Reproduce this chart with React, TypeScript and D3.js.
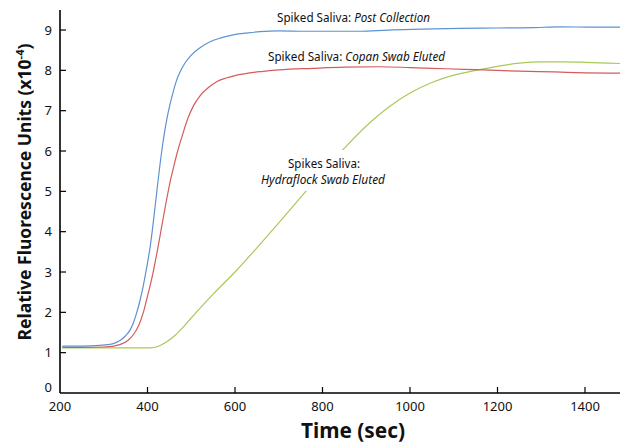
import React from "react";
import * as d3 from "d3";

const xTicks = [200, 400, 600, 800, 1000, 1200, 1400];
const yTicks = [0, 1, 2, 3, 4, 5, 6, 7, 8, 9];

const blueTime = [205, 250, 291, 320, 337, 350, 360, 368, 375, 383, 390, 398, 406, 412, 418, 424, 432, 438, 444, 452, 459, 466, 474, 485, 497, 520, 543, 570, 596, 630, 657, 700, 760, 820, 886, 950, 1030, 1114, 1200, 1280, 1343, 1420, 1480];
const blueVal = [1.16, 1.16, 1.18, 1.22, 1.3, 1.42, 1.56, 1.75, 1.98, 2.3, 2.64, 3.1, 3.62, 4.12, 4.68, 5.25, 5.95, 6.4, 6.78, 7.18, 7.48, 7.74, 7.95, 8.17, 8.34, 8.56, 8.71, 8.81, 8.88, 8.93, 8.96, 8.98, 8.97, 8.97, 8.97, 9.0, 9.02, 9.04, 9.05, 9.06, 9.08, 9.07, 9.07];

const redTime = [205, 250, 300, 337, 355, 368, 380, 390, 400, 413, 422, 432, 442, 451, 460, 467, 480, 493, 505, 520, 540, 558, 580, 600, 630, 660, 700, 778, 850, 931, 1000, 1080, 1167, 1250, 1330, 1400, 1480];
const redVal = [1.13, 1.13, 1.14, 1.2, 1.3, 1.45, 1.68, 1.98, 2.4, 3.0, 3.5, 4.1, 4.7, 5.2, 5.62, 5.92, 6.4, 6.83, 7.12, 7.37, 7.58, 7.72, 7.81, 7.87, 7.93, 7.97, 8.01, 8.05, 8.08, 8.09, 8.07, 8.04, 8.01, 7.98, 7.96, 7.94, 7.93];

const greenTime = [205, 300, 380, 406, 425, 444, 462, 482, 500, 550, 600, 650, 700, 750, 800, 850, 900, 950, 1000, 1050, 1100, 1150, 1200, 1250, 1300, 1350, 1400, 1480];
const greenVal = [1.12, 1.12, 1.12, 1.12, 1.16, 1.27, 1.42, 1.64, 1.86, 2.45, 3.0, 3.6, 4.22, 4.85, 5.48, 6.07, 6.62, 7.08, 7.44, 7.7, 7.88, 8.0, 8.1, 8.18, 8.21, 8.21, 8.2, 8.17];

const W = 624;
const H = 443;
const left = 60;
const right = 620;
const bottom = 393;
const top = 10;

const font = "'Noto Sans', 'Open Sans', sans-serif";

export default function App() {
  const x = d3.scaleLinear().domain([200, 200 + (right - left) / 0.4375]).range([left, right]);
  const y = d3.scaleLinear().domain([0, 9]).range([bottom, bottom - 9 * 40.33]);

  const mk = (ts: number[], vs: number[]) =>
    d3
      .line<number>()
      .x((_, i) => x(ts[i]))
      .y((v) => y(v))
      .curve(d3.curveMonotoneX)(vs) as string;

  return (
    <svg
      width={W}
      height={H}
      style={{ position: "fixed", left: 0, top: 0, background: "#fff" }}
      fontFamily={font}
    >
      <rect x={0} y={0} width={W} height={H} fill="#fff" />
      <path d={mk(greenTime, greenVal)} fill="none" stroke="#a9c95a" strokeWidth={1.2} />
      <path d={mk(redTime, redVal)} fill="none" stroke="#d45c5a" strokeWidth={1.2} />
      <path d={mk(blueTime, blueVal)} fill="none" stroke="#5c93d3" strokeWidth={1.2} />

      {/* axes */}
      <line x1={left} x2={left} y1={top} y2={bottom} stroke="#000" strokeWidth={1.6} />
      <line x1={left} x2={right} y1={bottom} y2={bottom} stroke="#000" strokeWidth={1.6} />
      {yTicks.map((t) => (
        <g key={"y" + t}>
          {t > 0 && <line x1={left} x2={left + 6} y1={y(t)} y2={y(t)} stroke="#000" strokeWidth={1.2} />}
          <text
            x={52}
            y={(t === 0 ? y(t) - 6 : y(t)) + 4.5}
            textAnchor="end"
            fontSize={13}
            fill="#111"
          >
            {t}
          </text>
        </g>
      ))}
      {xTicks.map((t) => (
        <g key={"x" + t}>
          {t > 200 && <line x1={x(t)} x2={x(t)} y1={bottom} y2={bottom - 6} stroke="#000" strokeWidth={1.2} />}
          <text x={x(t)} y={411} textAnchor="middle" fontSize={13} fill="#111">
            {t}
          </text>
        </g>
      ))}

      {/* axis titles */}
      <text
        x={353}
        y={438}
        textAnchor="middle"
        fontSize={22}
        fontWeight="bold"
        fill="#111"
        textLength={104}
        lengthAdjust="spacingAndGlyphs"
      >
        Time (sec)
      </text>
      <text
        transform={`translate(31,192) rotate(-90)`}
        textAnchor="middle"
        fontSize={17.5}
        fontWeight="bold"
        fill="#111"
      >
        Relative Fluorescence Units (x10
        <tspan dy={-7} fontSize={11}>-4</tspan>
        <tspan dy={7}>)</tspan>
      </text>

      {/* annotations */}
      <text x={277} y={22} fontSize={12.5} fill="#111" textLength={153} lengthAdjust="spacingAndGlyphs">
        Spiked Saliva: <tspan fontStyle="italic">Post Collection</tspan>
      </text>
      <text x={268} y={61} fontSize={12.5} fill="#111" textLength={177} lengthAdjust="spacingAndGlyphs">
        Spiked Saliva: <tspan fontStyle="italic">Copan Swab Eluted</tspan>
      </text>
      <rect x={258} y={150} width={130} height={41} fill="#fff" />
      <text x={288} y={168} fontSize={12.5} fill="#111" textLength={72} lengthAdjust="spacingAndGlyphs">
        Spikes Saliva:
      </text>
      <text x={261} y={184} fontSize={12.5} fontStyle="italic" fill="#111" textLength={124} lengthAdjust="spacingAndGlyphs">
        Hydraflock Swab Eluted
      </text>
    </svg>
  );
}
